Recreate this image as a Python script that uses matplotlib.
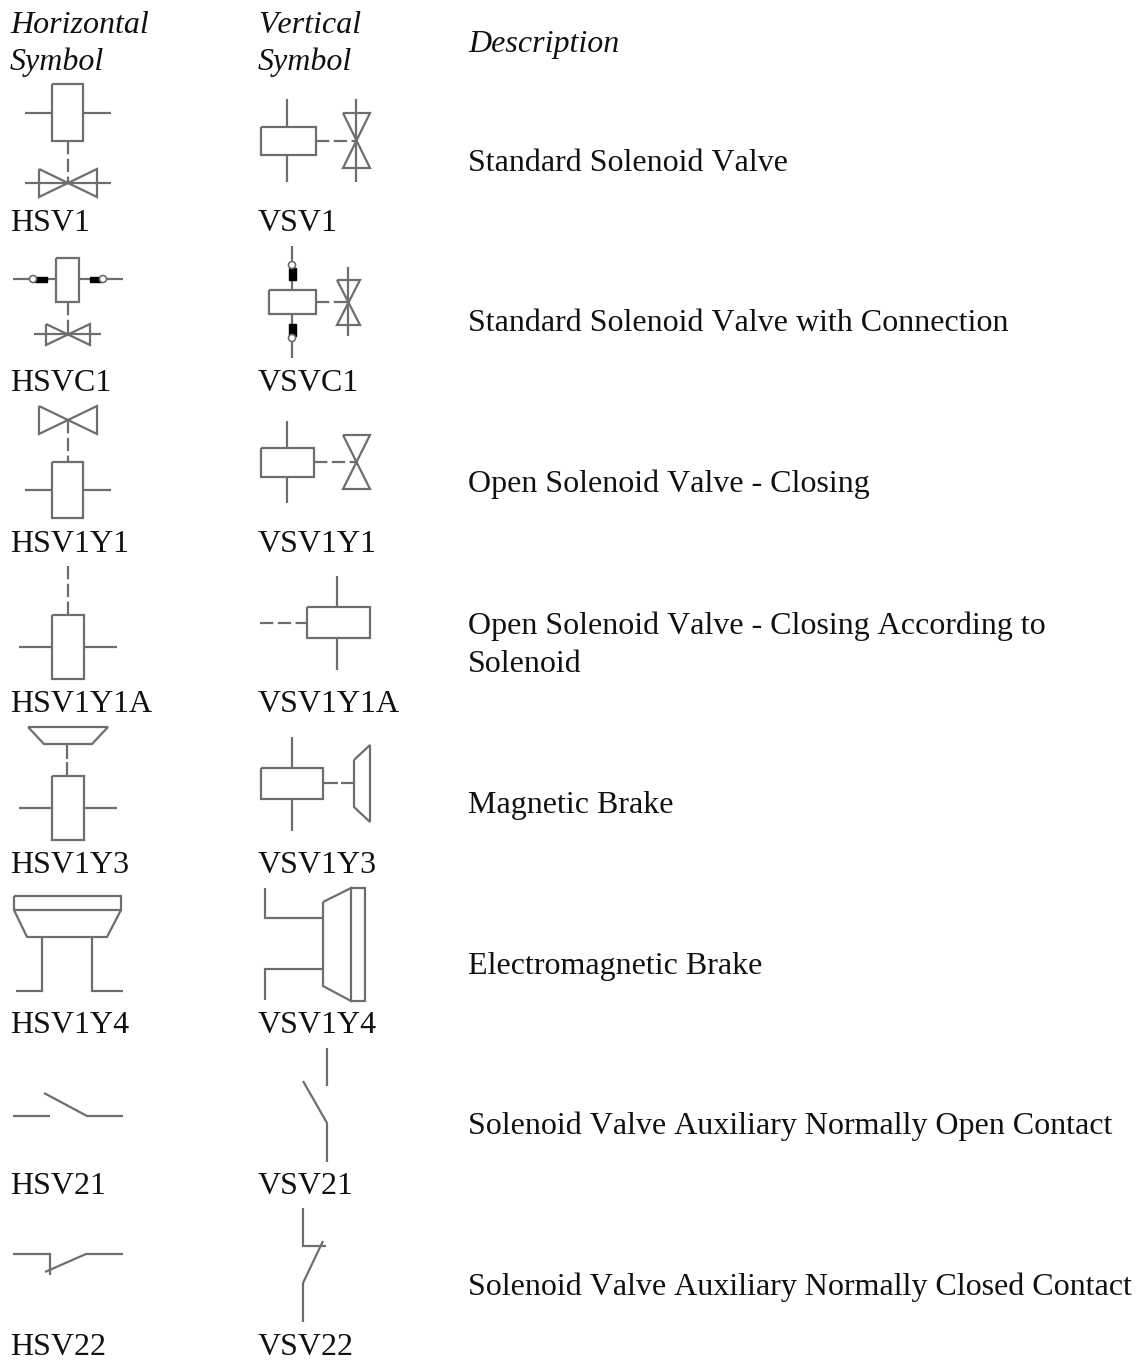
import matplotlib
matplotlib.use('Agg')
import matplotlib.pyplot as plt
from matplotlib.patches import Circle, Rectangle

plt.rcParams['font.family'] = ['Liberation Serif', 'DejaVu Serif']
plt.rcParams['text.kerning_factor'] = 6

# table text
header_h = ['Horizontal', 'Symbol']
header_v = ['Vertical', 'Symbol']
header_d = 'Description'
names_h = ['HSV1', 'HSVC1', 'HSV1Y1', 'HSV1Y1A', 'HSV1Y3', 'HSV1Y4', 'HSV21', 'HSV22']
names_v = ['VSV1', 'VSVC1', 'VSV1Y1', 'VSV1Y1A', 'VSV1Y3', 'VSV1Y4', 'VSV21', 'VSV22']
descriptions = ['Standard Solenoid Valve',
                'Standard Solenoid Valve with Connection',
                'Open Solenoid Valve - Closing',
                'Open Solenoid Valve - Closing According to\nSolenoid',
                'Magnetic Brake',
                'Electromagnetic Brake',
                'Solenoid Valve Auxiliary Normally Open Contact',
                'Solenoid Valve Auxiliary Normally Closed Contact']
name_base = [231, 391, 552, 712, 873, 1033, 1194, 1355]
desc_base = [171, 331, 492, 634, 813, 974, 1134, 1295]

# symbol strokes, image pixels
solid = [
    # HSV1
    [(52, 84), (83, 84), (83, 141), (52, 141), (52, 84)], [(25, 113), (52, 113)], [(83, 113), (111, 113)],
    [(39, 169), (39, 197), (97, 169), (97, 197), (39, 169)], [(25, 183), (111, 183)],
    # VSV1
    [(261, 127), (316, 127), (316, 155), (261, 155), (261, 127)], [(287, 99), (287, 127)], [(287, 155), (287, 182)],
    [(343, 113), (370, 113), (343, 168), (370, 168), (343, 113)], [(356, 99), (356, 182)],
    # HSVC1
    [(56, 258), (79, 258), (79, 302), (56, 302), (56, 258)], [(13, 279), (56, 279)], [(79, 279), (123, 279)],
    [(46, 324), (46, 345), (90, 324), (90, 345), (46, 324)], [(34, 334), (101, 334)],
    # VSVC1
    [(269, 290), (316, 290), (316, 314), (269, 314), (269, 290)], [(292, 246), (292, 290)], [(292, 314), (292, 358)],
    [(337, 280), (360, 280), (337, 325), (360, 325), (337, 280)], [(348, 267), (348, 336)],
    # HSV1Y1
    [(52, 462), (83, 462), (83, 518), (52, 518), (52, 462)], [(25, 490), (52, 490)], [(83, 490), (111, 490)],
    [(39, 406), (39, 434), (97, 406), (97, 434), (39, 406)],
    # VSV1Y1
    [(261, 448), (314, 448), (314, 477), (261, 477), (261, 448)], [(287, 421), (287, 448)], [(287, 477), (287, 503)],
    [(343, 435), (370, 435), (343, 489), (370, 489), (343, 435)],
    # HSV1Y1A
    [(52, 615), (84, 615), (84, 679), (52, 679), (52, 615)], [(19, 647), (52, 647)], [(84, 647), (117, 647)],
    # VSV1Y1A
    [(307, 607), (370, 607), (370, 638), (307, 638), (307, 607)], [(337, 576), (337, 607)], [(337, 638), (337, 670)],
    # HSV1Y3
    [(28, 727), (108, 727), (92, 744), (44, 744), (28, 727)], [(67, 744), (67, 759)], [(67, 762), (67, 776)],
    [(52, 776), (84, 776), (84, 840), (52, 840), (52, 776)], [(19, 808), (52, 808)], [(84, 808), (117, 808)],
    # VSV1Y3
    [(261, 768), (323, 768), (323, 799), (261, 799), (261, 768)], [(292, 737), (292, 768)], [(292, 799), (292, 831)],
    [(323, 783), (338, 783)], [(341, 783), (354, 783)], [(354, 760), (370, 745), (370, 822), (354, 807), (354, 760)],
    # HSV1Y4
    [(14, 896), (121, 896), (121, 910), (14, 910), (14, 896)], [(14, 910), (27, 937), (107, 937), (121, 910)],
    [(42, 937), (42, 991), (16, 991)], [(92, 937), (92, 991), (123, 991)],
    # VSV1Y4
    [(323, 902), (351, 888), (351, 1001), (323, 986), (323, 902)], [(351, 888), (365, 888), (365, 1001), (351, 1001)],
    [(265, 888), (265, 918), (323, 918)], [(265, 1000), (265, 969), (323, 969)],
    # HSV21
    [(13, 1116), (50, 1116)], [(44, 1093), (87, 1116), (123, 1116)],
    # VSV21
    [(327, 1048), (327, 1086)], [(303, 1081), (327, 1123), (327, 1162)],
    # HSV22
    [(13, 1254), (50, 1254), (50, 1275)], [(45, 1272), (86, 1254), (123, 1254)],
    # VSV22
    [(303, 1208), (303, 1246), (326, 1246)], [(323, 1241), (303, 1283), (303, 1322)],
]
dashed = [
    [(68, 141), (68, 183)], [(316, 141), (356, 141)],
    [(68, 302), (68, 334)], [(316, 302), (348, 302)],
    [(68, 420), (68, 462)], [(314, 462), (356, 462)],
    [(68, 566), (68, 615)], [(260, 623), (307, 623)],
]
# black connection blocks (x0, y0, x1, y1) and the small rings beside them
blocks = [(35, 277, 47, 282), (90, 277, 101, 282), (289, 268, 296, 280), (289, 324, 296, 336)]
rings = [(33, 279), (103, 279), (292, 265), (292, 338)]

line_col = '#6e6e6e'
text_col = '#111111'
fs = 23

fig = plt.figure(figsize=(11.41, 13.60), dpi=100)
ax = fig.add_axes([0, 0, 1, 1])
ax.set_xlim(0, 1141)
ax.set_ylim(1360, 0)
ax.axis('off')

for stroke in solid:
    xs = [p[0] for p in stroke]
    ys = [p[1] for p in stroke]
    ax.plot(xs, ys, color=line_col, lw=1.6, solid_joinstyle='miter', solid_capstyle='butt')

for stroke in dashed:
    xs = [p[0] for p in stroke]
    ys = [p[1] for p in stroke]
    ax.plot(xs, ys, color=line_col, lw=1.6, linestyle=(0, (6, 2)))

for x0, y0, x1, y1 in blocks:
    ax.add_patch(Rectangle((x0, y0), x1 - x0, y1 - y0, color='black', zorder=3))
for x, y in rings:
    ax.add_patch(Circle((x, y), 3.5, fc='white', ec=line_col, lw=1.2, zorder=3))

ax.text(10, 33, header_h[0], fontsize=fs, style='italic', color=text_col, va='baseline')
ax.text(10, 70, header_h[1], fontsize=fs, style='italic', color=text_col, va='baseline')
ax.text(258, 33, header_v[0], fontsize=fs, style='italic', color=text_col, va='baseline')
ax.text(258, 70, header_v[1], fontsize=fs, style='italic', color=text_col, va='baseline')
ax.text(468, 52, header_d, fontsize=fs, style='italic', color=text_col, va='baseline')

for i in range(len(names_h)):
    ax.text(10, name_base[i], names_h[i], fontsize=fs, color=text_col, va='baseline')
    ax.text(258, name_base[i], names_v[i], fontsize=fs, color=text_col, va='baseline')
    lines = descriptions[i].split('\n')
    for j in range(len(lines)):
        ax.text(468, desc_base[i] + 38 * j, lines[j], fontsize=fs, color=text_col, va='baseline')

fig.savefig('out.png', dpi=100, facecolor='white')
